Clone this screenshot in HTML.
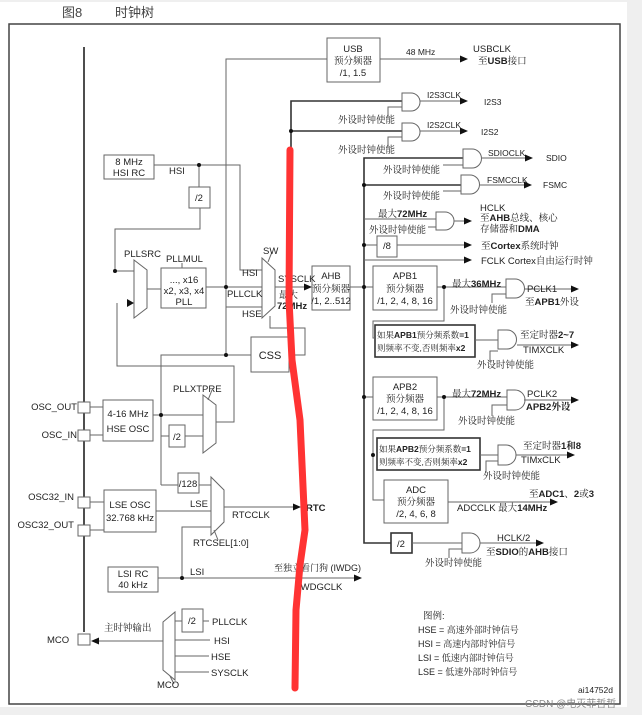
<!DOCTYPE html>
<html><head><meta charset="utf-8"><style>
html,body{margin:0;padding:0;background:#efefef;}
svg{display:block;}
text{font-family:"Liberation Sans","Noto Sans CJK SC",sans-serif;font-size:9.5px;fill:#222;}
.c{font-family:"Liberation Sans","Noto Serif CJK SC",serif;font-size:9.5px;}
.b{font-weight:bold;}
</style></head><body>
<svg width="642" height="715" viewBox="0 0 642 715" xmlns="http://www.w3.org/2000/svg">
<defs><marker id="a" markerWidth="8" markerHeight="8" refX="7" refY="4" orient="auto" markerUnits="userSpaceOnUse"><path d="M0,0.5 L8,4 L0,7.5Z" fill="#111"/></marker></defs>
<rect x="0" y="2" width="627" height="705" fill="#fff"/>
<rect x="9" y="24" width="611" height="680" fill="none" stroke="#444" stroke-width="1.5"/>
<text x="62" y="17" style="font-size:13px;fill:#444">图8</text>
<text x="115" y="17" style="font-size:13px;fill:#444">时钟树</text>
<g stroke="#666" stroke-width="1" fill="none">
<line x1="84" y1="47" x2="84" y2="632" stroke="#222" stroke-width="1.6"/>
<rect x="104" y="155" width="50" height="24"/>
<polyline points="154,165 240,165 240,270 262,270"/>
<rect x="189" y="187" width="21" height="21"/>
<line x1="199" y1="165" x2="199" y2="187"/>
<polyline points="200,208 200,229 115,229 115,271 134,271"/>
<polygon points="134,260 147,270 147,308 134,318"/>
<polyline points="117,303 117,366 234,366 234,422 216,422"/>
<line x1="147" y1="289" x2="161" y2="289"/>
<rect x="161" y="268" width="45" height="40"/>
<line x1="182" y1="263" x2="182" y2="268"/>
<line x1="206" y1="287" x2="262" y2="287"/>
<polyline points="226,355 226,59 327,59"/>
<polyline points="226,307 262,307"/>
<polygon points="262,258 275,270 275,306 262,318"/>
<line x1="268" y1="262" x2="272" y2="252"/>
<line x1="275" y1="287" x2="311" y2="287" marker-end="url(#a)"/>
<rect x="312" y="266" width="38" height="44"/>
<polyline points="270,316 270,328 305,328 305,355 289,355"/>
<rect x="251" y="337" width="38" height="35"/>
<polyline points="161,415 161,355 251,355"/>
<line x1="161" y1="415" x2="161" y2="485"/>
<rect x="327" y="38" width="53" height="44"/>
<line x1="380" y1="59" x2="467" y2="59" marker-end="url(#a)"/>
<rect x="78" y="402" width="12" height="11" fill="#fff"/>
<rect x="78" y="430" width="12" height="11" fill="#fff"/>
<rect x="78" y="497" width="12" height="11" fill="#fff"/>
<rect x="78" y="525" width="12" height="11" fill="#fff"/>
<rect x="78" y="634" width="12" height="11" fill="#fff"/>
<line x1="90" y1="407" x2="103" y2="407"/><line x1="90" y1="435" x2="103" y2="435"/>
<line x1="90" y1="502" x2="104" y2="502"/><line x1="90" y1="530" x2="104" y2="530"/>
<rect x="103" y="400" width="50" height="41"/>
<line x1="153" y1="415" x2="203" y2="415"/>
<polyline points="161,436 169,436"/><rect x="169" y="425" width="16" height="22"/>
<line x1="185" y1="436" x2="203" y2="436"/>
<polygon points="203,395 216,405 216,443 203,453"/>
<line x1="208" y1="400" x2="212" y2="390"/>
<line x1="161" y1="485" x2="178" y2="485"/>
<rect x="178" y="473" width="21" height="20"/>
<line x1="199" y1="485" x2="211" y2="485"/>
<rect x="104" y="490" width="52" height="42"/>
<line x1="156" y1="511" x2="211" y2="511"/>
<polygon points="211,477 224,490 224,522 211,535"/>
<line x1="214" y1="530" x2="218" y2="540"/>
<line x1="224" y1="507" x2="300" y2="507" marker-end="url(#a)"/>
<polyline points="182,578 182,527 211,527"/>
<rect x="108" y="567" width="50" height="25"/>
<line x1="158" y1="578" x2="361" y2="578" marker-end="url(#a)"/>
<polygon points="163,622 175,612 175,680 163,670"/>
<line x1="170" y1="676" x2="174" y2="684"/>
<line x1="175" y1="621" x2="182" y2="621"/>
<rect x="182" y="609" width="21" height="23"/>
<line x1="203" y1="621" x2="209" y2="621"/>
<line x1="175" y1="640" x2="210" y2="640"/>
<line x1="175" y1="656" x2="209" y2="656"/>
<line x1="175" y1="672" x2="209" y2="672"/>
<line x1="163" y1="641" x2="92" y2="641" marker-end="url(#a)"/>
</g>
<g stroke="#333" stroke-width="1.6" fill="none">
<polyline points="402,101 291,101 291,150"/>
<line x1="291" y1="131" x2="402" y2="131"/>
<polyline points="463,158 364,158 364,543 391,543"/>
<line x1="364" y1="185" x2="461" y2="185"/>
<rect x="391" y="533" width="21" height="20"/>
<rect x="375" y="325" width="100" height="32"/>
<rect x="377" y="438" width="103" height="32"/>
</g>
<g stroke="#666" stroke-width="1" fill="none">
<line x1="350" y1="287" x2="373" y2="287"/>
<line x1="364" y1="219" x2="436" y2="219"/>
<line x1="364" y1="245" x2="377" y2="245"/>
<rect x="377" y="236" width="20" height="21"/>
<line x1="397" y1="245" x2="471" y2="245" marker-end="url(#a)"/>
<line x1="364" y1="260" x2="471" y2="260" marker-end="url(#a)"/>
<line x1="454" y1="221" x2="471" y2="221" marker-end="url(#a)"/>
<rect x="373" y="266" width="64" height="44"/>
<line x1="437" y1="287" x2="506" y2="287"/>
<polyline points="444,287 444,321 373,321 373,338 375,338"/>
<line x1="475" y1="340" x2="498" y2="340"/>
<rect x="373" y="377" width="64" height="43"/>
<line x1="364" y1="397" x2="373" y2="397"/>
<line x1="437" y1="397" x2="507" y2="397"/>
<polyline points="444,397 444,430 373,430 373,500 384,500"/>
<line x1="480" y1="455" x2="498" y2="455"/>
<rect x="384" y="480" width="64" height="43"/>
<line x1="448" y1="502" x2="557" y2="502" marker-end="url(#a)"/>
<line x1="412" y1="543" x2="462" y2="543"/>
<line x1="420" y1="101" x2="467" y2="101" marker-end="url(#a)"/>
<line x1="420" y1="131" x2="467" y2="131" marker-end="url(#a)"/>
<line x1="482" y1="158" x2="532" y2="158" marker-end="url(#a)"/>
<line x1="480" y1="185" x2="531" y2="185" marker-end="url(#a)"/>
<line x1="524" y1="289" x2="578" y2="289" marker-end="url(#a)"/>
<line x1="517" y1="345" x2="578" y2="345" marker-end="url(#a)"/>
<line x1="524" y1="400" x2="578" y2="400" marker-end="url(#a)"/>
<line x1="516" y1="455" x2="574" y2="455" marker-end="url(#a)"/>
<line x1="480" y1="543" x2="543" y2="543" marker-end="url(#a)"/>
<polyline points="388,117 388,107 402,107"/>
<polyline points="388,147 388,137 402,137"/>
<polyline points="443,165 463,165"/>
<polyline points="443,191 461,191"/>
<polyline points="428,227 436,227"/>
<polyline points="492,303 492,294 506,294"/>
<polyline points="490,362 490,351 498,351"/>
<polyline points="492,416 492,405 507,405"/>
<polyline points="486,472 486,461 498,461"/>
<polyline points="449,558 449,549 462,549"/>
<path d="M402,93 H411 A9,9 0 0 1 411,111 H402 Z"/>
<path d="M402,123 H411 A9,9 0 0 1 411,141 H402 Z"/>
<path d="M463,149 H472 A9.5,9.5 0 0 1 472,168 H463 Z"/>
<path d="M461,175 H470 A9.5,9.5 0 0 1 470,194 H461 Z"/>
<path d="M436,212 H445 A9,9 0 0 1 445,230 H436 Z"/>
<path d="M506,279 H515 A9.5,9.5 0 0 1 515,298 H506 Z"/>
<path d="M498,330 H507 A9.5,9.5 0 0 1 507,349 H498 Z"/>
<path d="M507,390 H515 A10,10 0 0 1 515,410 H507 Z"/>
<path d="M498,445 H506 A10,10 0 0 1 506,465 H498 Z"/>
<path d="M462,533 H470 A10,10 0 0 1 470,553 H462 Z"/>
</g>
<g fill="#111">
<circle cx="199" cy="165" r="2"/><circle cx="115" cy="271" r="2"/><circle cx="226" cy="287" r="2"/>
<circle cx="226" cy="355" r="2"/><circle cx="161" cy="415" r="2"/><circle cx="182" cy="578" r="2"/>
<circle cx="291" cy="131" r="2"/><circle cx="364" cy="185" r="2"/><circle cx="364" cy="245" r="2"/>
<circle cx="364" cy="287" r="2"/><circle cx="444" cy="287" r="2"/><circle cx="364" cy="397" r="2"/>
<circle cx="444" cy="397" r="2"/><circle cx="373" cy="455" r="2"/>
<path d="M127,299 L134,303 L127,307Z"/>
</g>
<text x="129" y="165" text-anchor="middle">8 MHz</text><text x="129" y="176" text-anchor="middle">HSI RC</text>
<text x="169" y="174">HSI</text>
<text x="199" y="201" text-anchor="middle">/2</text>
<text x="124" y="257">PLLSRC</text><text x="166" y="262">PLLMUL</text>
<text x="184" y="283" text-anchor="middle">..., x16</text><text x="184" y="294" text-anchor="middle">x2, x3, x4</text><text x="184" y="305" text-anchor="middle">PLL</text>
<text x="263" y="254">SW</text>
<text x="242" y="276">HSI</text><text x="227" y="297">PLLCLK</text><text x="242" y="317">HSE</text>
<text x="278" y="282">SYSCLK</text><text x="279" y="298" class="c">最大</text><text x="277" y="309" class="b">72MHz</text>
<text x="331" y="279" text-anchor="middle">AHB</text><text x="331" y="292" text-anchor="middle" class="c">预分频器</text><text x="331" y="304" text-anchor="middle">/1, 2..512</text>
<text x="270" y="359" text-anchor="middle" style="font-size:11px">CSS</text>
<text x="353" y="52" text-anchor="middle">USB</text><text x="353" y="64" text-anchor="middle" class="c">预分频器</text><text x="353" y="76" text-anchor="middle">/1, 1.5</text>
<text x="406" y="55" style="font-size:8.5px">48 MHz</text>
<text x="473" y="52">USBCLK</text><text x="478" y="64" class="c">至<tspan class="b">USB</tspan>接口</text>
<text x="427" y="98" style="font-size:8.5px">I2S3CLK</text><text x="484" y="105" style="font-size:8.5px">I2S3</text>
<text x="338" y="123" class="c">外设时钟使能</text>
<text x="427" y="128" style="font-size:8.5px">I2S2CLK</text><text x="481" y="135" style="font-size:8.5px">I2S2</text>
<text x="338" y="153" class="c">外设时钟使能</text>
<text x="488" y="156" style="font-size:8.5px">SDIOCLK</text><text x="546" y="161" style="font-size:8.5px">SDIO</text>
<text x="383" y="173" class="c">外设时钟使能</text>
<text x="487" y="183" style="font-size:8.5px">FSMCCLK</text><text x="543" y="188" style="font-size:8.5px">FSMC</text>
<text x="383" y="199" class="c">外设时钟使能</text>
<text x="378" y="217" class="c">最大<tspan class="b">72MHz</tspan></text>
<text x="369" y="233" class="c">外设时钟使能</text>
<text x="480" y="211">HCLK</text><text x="480" y="221" class="c">至<tspan class="b">AHB</tspan>总线、核心</text><text x="480" y="232" class="c">存储器和<tspan class="b">DMA</tspan></text>
<text x="387" y="249" text-anchor="middle">/8</text>
<text x="481" y="249" class="c">至<tspan class="b">Cortex</tspan>系统时钟</text>
<text x="481" y="264" class="c">FCLK Cortex自由运行时钟</text>
<text x="405" y="279" text-anchor="middle">APB1</text><text x="405" y="292" text-anchor="middle" class="c">预分频器</text><text x="405" y="304" text-anchor="middle">/1, 2, 4, 8, 16</text>
<text x="452" y="287" class="c">最大<tspan class="b">36MHz</tspan></text>
<text x="527" y="292">PCLK1</text><text x="525" y="305" class="c">至<tspan class="b">APB1</tspan>外设</text>
<text x="450" y="313" class="c">外设时钟使能</text>
<text x="377" y="338" class="c" style="font-size:8.5px">如果<tspan class="b">APB1</tspan>预分频系数<tspan class="b">=1</tspan></text>
<text x="377" y="351" class="c" style="font-size:8.5px">则频率不变,否则频率<tspan class="b">x2</tspan></text>
<text x="520" y="338" class="c">至定时器<tspan class="b">2~7</tspan></text><text x="523" y="353">TIMXCLK</text>
<text x="477" y="368" class="c">外设时钟使能</text>
<text x="405" y="390" text-anchor="middle">APB2</text><text x="405" y="402" text-anchor="middle" class="c">预分频器</text><text x="405" y="414" text-anchor="middle">/1, 2, 4, 8, 16</text>
<text x="452" y="397" class="c">最大<tspan class="b">72MHz</tspan></text>
<text x="527" y="397">PCLK2</text><text x="526" y="410" class="c b">APB2外设</text>
<text x="458" y="424" class="c">外设时钟使能</text>
<text x="379" y="452" class="c" style="font-size:8.5px">如果<tspan class="b">APB2</tspan>预分频系数<tspan class="b">=1</tspan></text>
<text x="379" y="465" class="c" style="font-size:8.5px">则频率不变,否则频率<tspan class="b">x2</tspan></text>
<text x="523" y="449" class="c">至定时器<tspan class="b">1和8</tspan></text><text x="521" y="463">TIMxCLK</text>
<text x="483" y="479" class="c">外设时钟使能</text>
<text x="416" y="493" text-anchor="middle">ADC</text><text x="416" y="505" text-anchor="middle" class="c">预分频器</text><text x="416" y="517" text-anchor="middle">/2, 4, 6, 8</text>
<text x="529" y="497" class="c">至<tspan class="b">ADC1</tspan>、<tspan class="b">2</tspan>或<tspan class="b">3</tspan></text>
<text x="457" y="511" class="c">ADCCLK 最大<tspan class="b">14MHz</tspan></text>
<text x="401" y="547" text-anchor="middle">/2</text>
<text x="497" y="541">HCLK/2</text><text x="486" y="555" class="c">至<tspan class="b">SDIO</tspan>的<tspan class="b">AHB</tspan>接口</text>
<text x="425" y="566" class="c">外设时钟使能</text>
<text x="77" y="410" text-anchor="end">OSC_OUT</text><text x="77" y="438" text-anchor="end">OSC_IN</text>
<text x="128" y="417" text-anchor="middle">4-16 MHz</text><text x="128" y="432" text-anchor="middle">HSE OSC</text>
<text x="173" y="392">PLLXTPRE</text>
<text x="177" y="440" text-anchor="middle">/2</text>
<text x="188" y="487" text-anchor="middle">/128</text>
<text x="74" y="500" text-anchor="end">OSC32_IN</text><text x="74" y="528" text-anchor="end">OSC32_OUT</text>
<text x="130" y="508" text-anchor="middle">LSE OSC</text><text x="130" y="521" text-anchor="middle">32.768 kHz</text>
<text x="190" y="507">LSE</text>
<text x="232" y="518">RTCCLK</text><text x="306" y="511" class="b">RTC</text>
<text x="193" y="546">RTCSEL[1:0]</text>
<text x="133" y="577" text-anchor="middle">LSI RC</text><text x="133" y="588" text-anchor="middle">40 kHz</text>
<text x="190" y="575">LSI</text>
<text x="274" y="571" class="c" style="font-size:9px">至独立看门狗 (IWDG)</text>
<text x="298" y="590">IWDGCLK</text>
<text x="47" y="643">MCO</text>
<text x="104" y="631" class="c">主时钟输出</text>
<text x="192" y="624" text-anchor="middle">/2</text>
<text x="212" y="625">PLLCLK</text><text x="214" y="644">HSI</text><text x="211" y="660">HSE</text><text x="211" y="676">SYSCLK</text>
<text x="157" y="688">MCO</text>
<text x="423" y="619" class="c">图例:</text>
<text x="418" y="633" class="c" style="font-size:9px">HSE = 高速外部时钟信号</text>
<text x="418" y="647" class="c" style="font-size:9px">HSI = 高速内部时钟信号</text>
<text x="418" y="661" class="c" style="font-size:9px">LSI = 低速内部时钟信号</text>
<text x="418" y="675" class="c" style="font-size:9px">LSE = 低速外部时钟信号</text>
<text x="578" y="693" style="font-size:8.5px">ai14752d</text>
<text x="525" y="707" style="font-size:10px;fill:#888">CSDN @电灭菲哲哲</text>
<path d="M290,150 L289,300 L292,360 L300,420 L305,530 L300,565 L296,610 L295,688" stroke="#ff3333" stroke-width="7" fill="none" stroke-linecap="round" stroke-linejoin="round"/>
</svg>
</body></html>
